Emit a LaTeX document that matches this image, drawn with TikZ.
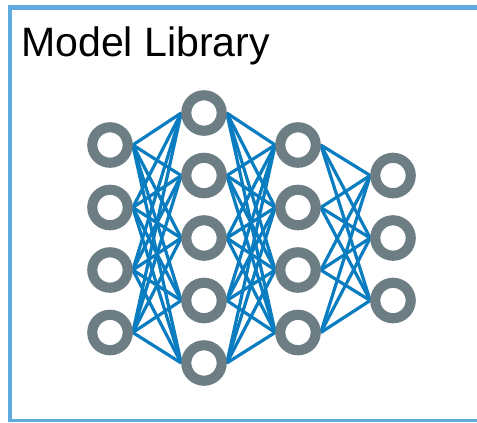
\documentclass[tikz,border=0pt]{standalone}
\usepackage{fontspec}
\setmainfont{Liberation Sans}
\usetikzlibrary{backgrounds}
\definecolor{frameblue}{HTML}{5DABDF}
\definecolor{ringgrey}{HTML}{6C7E83}
\definecolor{linkblue}{HTML}{0A7DC1}
\tikzset{
  neuron/.style={circle, draw=ringgrey, fill=white, line width=7.6pt, minimum size=26.6pt, inner sep=0pt},
  link/.style={draw=linkblue, line width=2.4pt},
  frame/.style={draw=frameblue}
}
\begin{document}
\begin{tikzpicture}[x=0.75pt, y=-0.75pt]
\useasboundingbox (0,0) rectangle (477,422);
% frame
\draw[frame, line width=3.6pt] (10,5) -- (10,422);
\draw[frame, line width=3.6pt] (7.5,7.7) -- (477,7.7);
\draw[frame, line width=2.4pt] (7.5,420.6) -- (477,420.6);
\node[anchor=base west, inner sep=0pt, font=\fontsize{30.8pt}{36pt}\selectfont] (title) at (21,56) {Model Library};
% layers
\foreach \i/\y in {1/145,2/207.5,3/270,4/332.5} \node[neuron] (a\i) at (110,\y) {};
\foreach \i/\y in {1/113,2/175.5,3/238,4/300.5,5/363} \node[neuron] (b\i) at (204,\y) {};
\foreach \i/\y in {1/145,2/207.5,3/270,4/332.5} \node[neuron] (c\i) at (298,\y) {};
\foreach \i/\y in {1/175.5,2/238,3/300.5} \node[neuron] (d\i) at (393,\y) {};
\begin{scope}[on background layer]
\foreach \i in {1,...,4} \foreach \j in {1,...,5} \draw[link] (a\i.east) -- (b\j.west);
\foreach \i in {1,...,5} \foreach \j in {1,...,4} \draw[link] (b\i.east) -- (c\j.west);
\foreach \i in {1,...,4} \foreach \j in {1,...,3} \draw[link] (c\i.east) -- (d\j.west);
\end{scope}
\end{tikzpicture}
\end{document}
